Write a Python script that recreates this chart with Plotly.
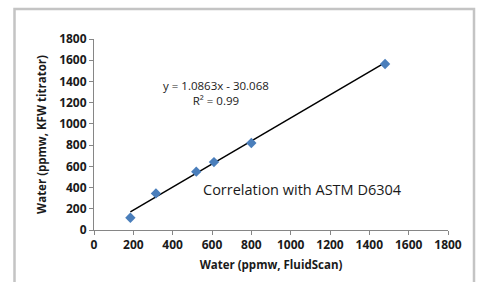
import plotly.graph_objects as go

fluidscan = [185, 315, 520, 610, 800, 1480]
kfw_titrator = [115, 345, 550, 640, 820, 1565]
slope = 1.0863
intercept = -30.068
r_squared = 0.99
tick_vals = [0, 200, 400, 600, 800, 1000, 1200, 1400, 1600, 1800]

line_x = [min(fluidscan), max(fluidscan)]
line_y = [slope * v + intercept for v in line_x]

W, H = 477, 282
L, R, T, B = 94, 29, 39, 52
pw, ph = W - L - R, H - T - B

def px(x):
    return (x - L) / pw

def py(y):
    return (H - B - y) / ph

fig = go.Figure()
fig.add_trace(go.Scatter(x=line_x, y=line_y, mode="lines",
                         line=dict(color="black", width=1.5), hoverinfo="skip"))
fig.add_trace(go.Scatter(x=fluidscan, y=kfw_titrator, mode="markers",
                         marker=dict(symbol="diamond", size=8, color="#4a7ebb")))

font = "Open Sans, Liberation Sans, sans-serif"
axis_common = dict(range=[0, 1800], tickvals=tick_vals, showgrid=False, zeroline=False,
                   showline=True, linecolor="#868686", linewidth=1, automargin=False,
                   ticks="outside", ticklen=4, tickcolor="#868686",
                   tickfont=dict(family=font, size=12, color="#1a1a1a", weight="bold"))
fig.update_xaxes(**axis_common,
                 title=dict(text="Water (ppmw, FluidScan)", standoff=8,
                            font=dict(family=font, size=11.5, color="#1a1a1a", weight="bold")))
fig.update_yaxes(**axis_common,
                 title=dict(text="Water (ppmw, KFW titrator)", standoff=10,
                            font=dict(family=font, size=11.5, color="#1a1a1a", weight="bold")))

fig.add_annotation(x=px(216), y=py(76), xref="paper", yref="paper", showarrow=False,
                   text=f"y = {slope}x - {abs(intercept):.3f}<br>R² = {r_squared}",
                   align="center",
                   font=dict(family=font, size=11.5, color="#1a1a1a"))
fig.add_annotation(x=px(302), y=py(201), xref="paper", yref="paper", showarrow=False,
                   text="Correlation with ASTM D6304",
                   font=dict(family=font, size=14.5, color="#1a1a1a"))

fig.add_shape(type="rect", xref="paper", yref="paper",
              x0=px(14.5), x1=px(474), y0=py(300), y1=py(9),
              line=dict(color="#c4c4c4", width=2.5), layer="below")

fig.update_layout(width=W, height=H, margin=dict(l=L, r=R, t=T, b=B),
                  paper_bgcolor="white", plot_bgcolor="white", showlegend=False)
fig.write_html("out.html", config={"displayModeBar": False},
               post_script="document.body.style.margin='0';document.body.style.overflow='hidden';")
